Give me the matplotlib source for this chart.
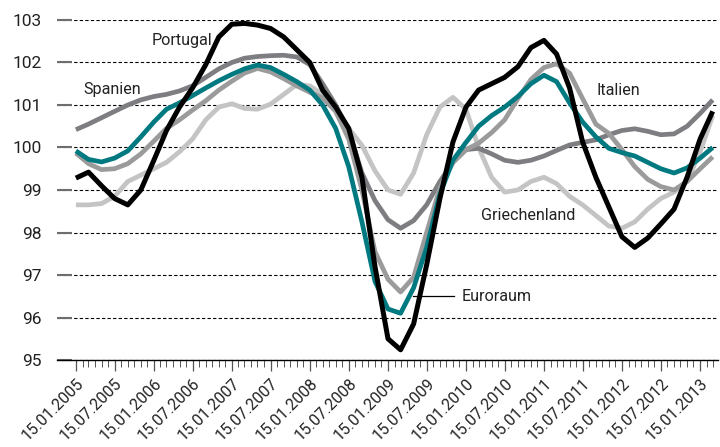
import numpy as np
import pandas as pd
import matplotlib
matplotlib.use("Agg")
import matplotlib.pyplot as plt
import matplotlib.dates as mdates
from matplotlib.ticker import FixedLocator

plt.rcParams['font.family'] = ['Roboto', 'DejaVu Sans']

# every second month, 15.01.2005 .. 15.03.2013
dates = pd.date_range("2005-01-01", "2013-03-01", freq="2MS") + pd.Timedelta(days=14)

portugal = [99.28, 99.42, 99.1, 98.8, 98.65, 99.0, 99.7, 100.4, 100.95, 101.4,
            101.95, 102.6, 102.9, 102.92, 102.88, 102.8, 102.6, 102.3, 102.0, 101.35,
            100.95, 100.45, 99.3, 97.2, 95.5, 95.24, 95.85, 97.24, 98.8, 100.13,
            100.95, 101.35, 101.5, 101.65, 101.9, 102.35, 102.52, 102.2, 101.4, 100.13,
            99.3, 98.6, 97.9, 97.65, 97.87, 98.2, 98.55, 99.3, 100.2, 100.85]
euroraum = [99.92, 99.72, 99.66, 99.75, 99.92, 100.25, 100.6, 100.9, 101.05, 101.22,
            101.4, 101.57, 101.72, 101.85, 101.94, 101.88, 101.72, 101.55, 101.35, 101.0,
            100.45, 99.55, 98.25, 96.85, 96.2, 96.1, 96.7, 97.65, 98.9, 99.7,
            100.12, 100.5, 100.75, 100.95, 101.2, 101.5, 101.7, 101.55, 101.05, 100.6,
            100.25, 99.98, 99.88, 99.8, 99.65, 99.5, 99.4, 99.52, 99.75, 100.0]
spanien = [100.42, 100.55, 100.7, 100.85, 101.0, 101.12, 101.2, 101.25, 101.33, 101.45,
           101.65, 101.85, 102.0, 102.1, 102.14, 102.16, 102.17, 102.13, 101.95, 101.5,
           101.0, 100.4, 99.4, 98.75, 98.3, 98.1, 98.28, 98.65, 99.2, 99.65,
           99.95, 99.98, 99.85, 99.7, 99.65, 99.7, 99.8, 99.93, 100.06, 100.12,
           100.18, 100.3, 100.4, 100.44, 100.38, 100.3, 100.32, 100.5, 100.8, 101.12]
italien = [99.87, 99.62, 99.48, 99.5, 99.62, 99.85, 100.15, 100.45, 100.65, 100.88,
           101.1, 101.35, 101.56, 101.75, 101.86, 101.78, 101.62, 101.45, 101.3, 101.17,
           100.85, 100.2, 99.0, 97.55, 96.9, 96.6, 96.95, 98.0, 99.05, 99.65,
           99.95, 100.1, 100.35, 100.65, 101.15, 101.6, 101.88, 101.97, 101.75, 101.15,
           100.55, 100.33, 99.95, 99.55, 99.25, 99.08, 99.0, 99.2, 99.5, 99.78]
griechenland = [98.65, 98.65, 98.68, 98.85, 99.2, 99.35, 99.5, 99.65, 99.9, 100.2,
                100.65, 100.95, 101.03, 100.92, 100.9, 101.02, 101.25, 101.48, 101.45, 101.25,
                100.9, 100.45, 100.05, 99.45, 99.0, 98.9, 99.4, 100.3, 100.95, 101.18,
                100.9, 100.0, 99.3, 98.95, 99.0, 99.2, 99.3, 99.15, 98.85, 98.65,
                98.4, 98.15, 98.1, 98.25, 98.55, 98.8, 98.95, 99.2, 99.9, 100.75]

yticks = [95, 96, 97, 98, 99, 100, 101, 102, 103]

fig = plt.figure(figsize=(7.2, 4.47), dpi=100)
ax = fig.add_axes([0.079, 0.1946, 0.918, 0.7607])

kw = dict(linewidth=3.4, solid_joinstyle='round', solid_capstyle='butt')
ax.plot(dates, griechenland, color='#c4c4c4', **kw)
ax.plot(dates, spanien, color='#7e7e82', **kw)
ax.plot(dates, italien, color='#9b9b9b', **kw)
ax.plot(dates, euroraum, color='#007a80', **kw)
ax.plot(dates, portugal, color='black', linewidth=3.6,
        solid_joinstyle='round', solid_capstyle='butt')

ax.set_ylim(95, 103)
ax.set_xlim(pd.Timestamp("2004-10-18"), pd.Timestamp("2013-04-08"))
ax.set_yticks(yticks)
ax.set_yticklabels([str(v) for v in yticks])
ax.yaxis.grid(True, color='black', linestyle=(0, (3, 2)), linewidth=0.8)
ax.set_axisbelow(True)

major = pd.date_range("2005-01-01", "2013-01-01", freq="6MS") + pd.Timedelta(days=14)
minor = pd.date_range("2005-01-01", "2013-03-01", freq="MS") + pd.Timedelta(days=14)
ax.xaxis.set_major_locator(FixedLocator(mdates.date2num(major)))
ax.xaxis.set_minor_locator(FixedLocator(mdates.date2num(minor)))
ax.set_xticklabels([d.strftime("%d.%m.%Y") for d in major], rotation=45,
                   ha='right', va='top', rotation_mode='anchor')

for s in ['left', 'top', 'right']:
    ax.spines[s].set_visible(False)
ax.spines['bottom'].set_color('black')
ax.spines['bottom'].set_linewidth(1.0)

ax.tick_params(axis='y', direction='in', length=11, width=1.5, color='#6e6e6e',
               pad=11, labelsize=12.5, labelcolor='#222222')
ax.tick_params(axis='x', which='major', direction='out', length=8, width=0.9,
               color='#555555', pad=3, labelsize=11.5, labelcolor='#222222')
ax.tick_params(axis='x', which='minor', direction='out', length=5, width=0.7,
               color='#555555')

tkw = dict(transform=ax.transAxes, fontsize=11.6, color='#222222', va='center')
ax.text(0.1437, 0.941, "Portugal", **tkw)
ax.text(0.0408, 0.797, "Spanien", **tkw)
ax.text(0.817, 0.794, "Italien", **tkw)
ax.text(0.642, 0.426, "Griechenland", **tkw)
ax.text(0.613, 0.188, "Euroraum", **tkw)
ax.plot([0.5386, 0.6006], [0.188, 0.188], transform=ax.transAxes,
        color='black', linewidth=0.9)

fig.savefig("out.png", dpi=100)
